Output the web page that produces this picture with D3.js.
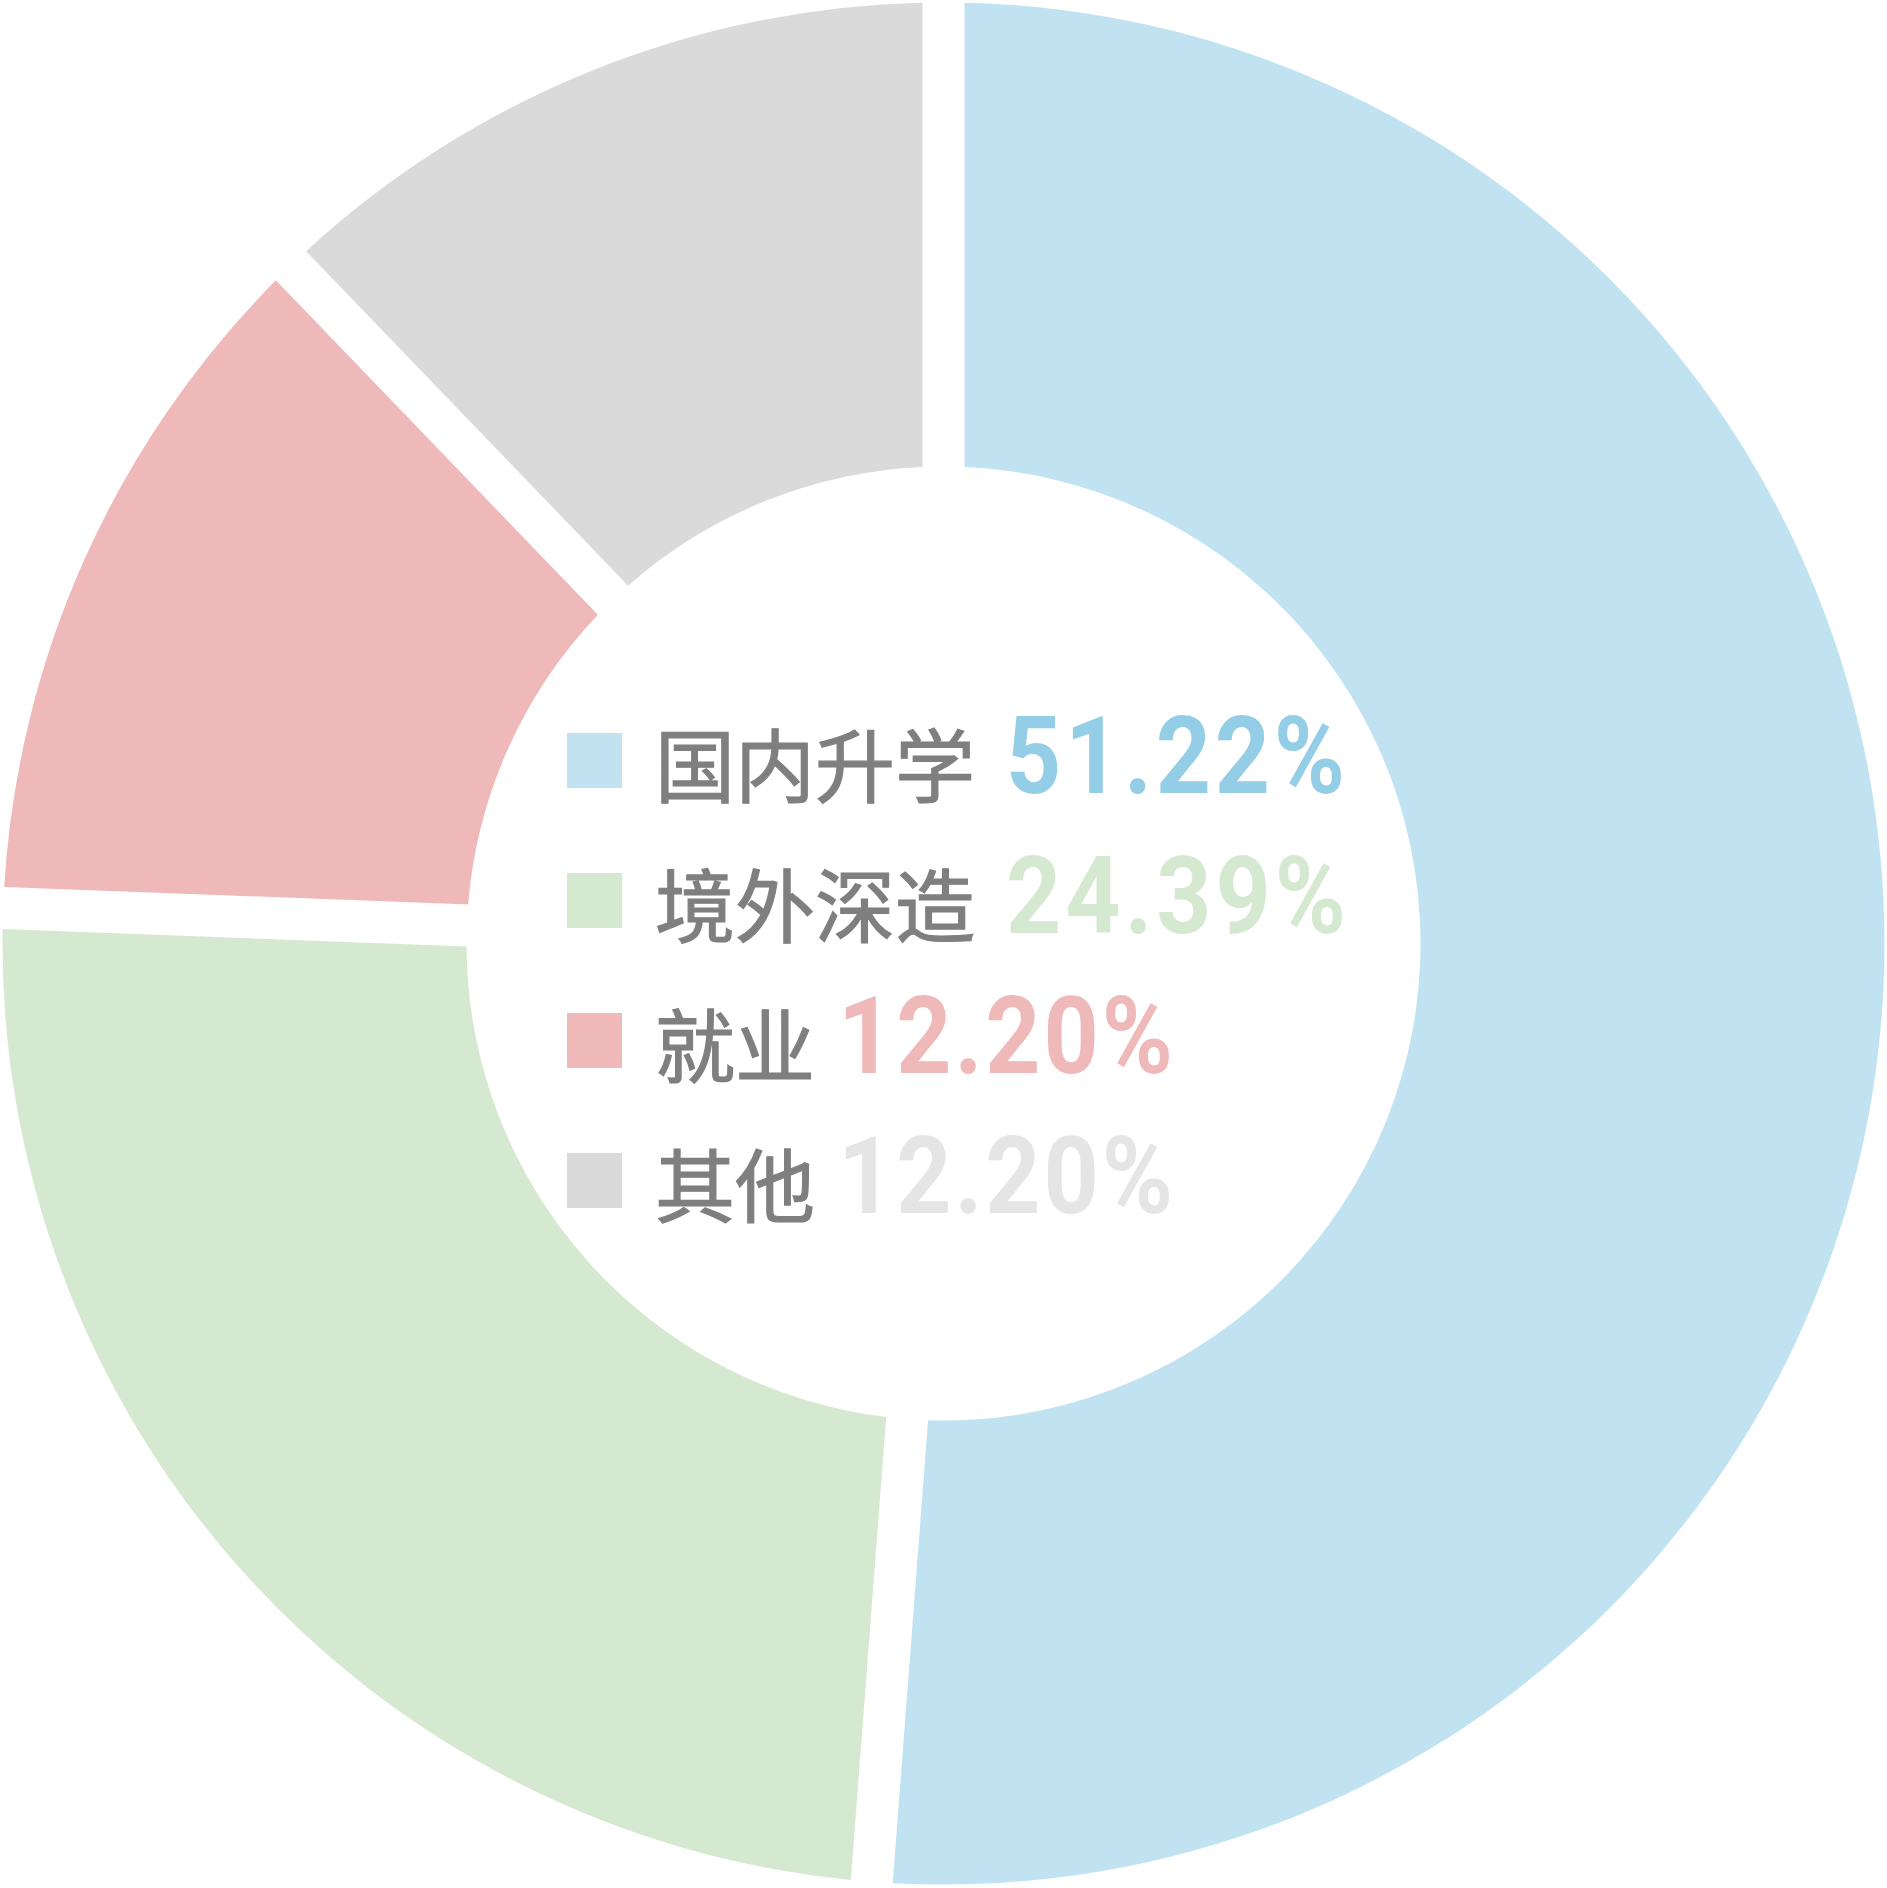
<!DOCTYPE html>
<html><head><meta charset="utf-8">
<script src="https://cdn.jsdelivr.net/npm/d3@7"></script>
<style>html,body{margin:0;padding:0;background:#fff;}svg{display:block;}</style>
</head><body>
<svg id="c" width="1887" height="1888"></svg>
<script>
const categories = ["国内升学", "境外深造", "就业", "其他"];
const values = [51.22, 24.39, 12.20, 12.20];
const valueLabels = ["51.22%", "24.39%", "12.20%", "12.20%"];
const sliceColors = ["#c0e2f1", "#d5e9d0", "#efb8b9", "#dadada"];
const textColors = ["#93cde6", "#d5e9d0", "#efb9ba", "#e5e5e5"];

const svg = d3.select("#c");
const cx = 943.5, cy = 943.5, R = 941, r = 477;
const g = svg.append("g").attr("transform", `translate(${cx},${cy})`);

const pie = d3.pie().sort(null).value(d => d);
const arc = d3.arc().innerRadius(r).outerRadius(R).padRadius(R).padAngle(42 / R);

g.selectAll("path").data(pie(values)).join("path")
  .attr("d", arc)
  .attr("fill", (d, i) => sliceColors[i]);

// legend
const y = d3.scalePoint().domain(categories).range([733, 1153]);
const leg = svg.append("g");
const rows = leg.selectAll("g").data(categories).join("g")
  .attr("transform", d => `translate(0,${y(d)})`);
rows.append("rect").attr("x", 567).attr("y", 0).attr("width", 55).attr("height", 55)
  .attr("fill", (d, i) => sliceColors[i]);
const lbl = rows.append("text").attr("x", 655).attr("y", 63)
  .attr("font-family", "'Noto Sans CJK SC', sans-serif")
  .attr("font-size", 80).attr("fill", "#7f7f7f")
  .attr("stroke", "#7f7f7f").attr("stroke-width", 1.2)
  .text(d => d);
const pctWidths = [339, 340, 335, 335];
const sx = 0.9;
rows.each(function(d, i) {
  const w = d3.select(this).select("text").node().getComputedTextLength();
  const x0 = 655 + w + (i < 2 ? 31 : 23);
  d3.select(this).append("text")
    .attr("transform", `translate(${x0},60) scale(${sx},1)`)
    .attr("font-family", "Roboto, 'DejaVu Sans', sans-serif")
    .attr("font-weight", "bold").attr("font-size", 107)
    .attr("textLength", pctWidths[i] / sx).attr("lengthAdjust", "spacing")
    .attr("fill", textColors[i])
    .text(valueLabels[i]);
});
</script>
</body></html>
